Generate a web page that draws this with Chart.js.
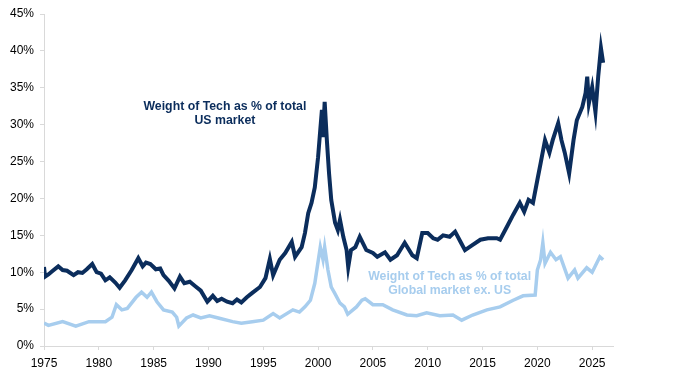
<!DOCTYPE html>
<html>
<head>
<meta charset="utf-8">
<script src="https://cdn.jsdelivr.net/npm/chart.js@4"></script>
<style>
html,body{margin:0;padding:0;background:#fff;}
#wrap{width:680px;height:385px;position:relative;}
</style>
</head>
<body>
<div id="wrap"><canvas id="c" width="680" height="385"></canvas></div>
<script>
const usYears = [1975.0,1975.1,1975.4,1975.8,1976.3,1976.7,1977.1,1977.7,1978.1,1978.5,1978.9,1979.4,1979.8,1980.2,1980.6,1981.0,1981.5,1981.9,1982.4,1983.0,1983.6,1984.0,1984.3,1984.7,1985.2,1985.6,1985.9,1986.4,1986.9,1987.4,1987.8,1988.3,1988.8,1989.3,1989.9,1990.4,1990.8,1991.2,1991.7,1992.2,1992.6,1993.0,1993.5,1994.0,1994.7,1995.2,1995.6,1995.9,1996.5,1997.0,1997.6,1997.9,1998.5,1998.8,1999.1,1999.4,1999.7,2000.0,2000.2,2000.35,2000.45,2000.6,2000.8,2001.0,2001.2,2001.55,2001.8,2002.0,2002.3,2002.6,2002.75,2003.0,2003.4,2003.8,2004.4,2005.0,2005.4,2006.1,2006.6,2007.2,2007.9,2008.6,2009.0,2009.5,2010.0,2010.5,2010.9,2011.4,2012.0,2012.5,2013.0,2013.4,2014.1,2014.8,2015.5,2016.3,2016.6,2017.2,2017.8,2018.4,2018.8,2019.2,2019.6,2020.0,2020.3,2020.7,2021.1,2021.4,2021.9,2022.2,2022.5,2022.9,2023.3,2023.6,2024.1,2024.4,2024.55,2024.7,2025.0,2025.3,2025.55,2025.8,2026.0];
const usValues = [10.7,9.4,9.7,10.2,10.8,10.3,10.2,9.6,10.0,9.9,10.4,11.1,10.0,9.8,8.9,9.3,8.6,7.9,8.9,10.3,11.9,10.8,11.3,11.1,10.4,10.5,9.6,8.8,7.8,9.4,8.5,8.7,8.1,7.5,6.0,6.8,6.1,6.4,6.0,5.8,6.3,5.9,6.6,7.2,8.0,9.2,11.8,9.6,11.7,12.6,14.1,12.1,13.4,15.3,18.0,19.4,21.5,25.6,29.3,32.0,28.3,33.1,27.9,23.4,19.8,16.7,15.7,17.1,14.8,13.0,10.7,13.0,13.4,14.8,13.0,12.6,12.1,12.7,11.7,12.3,14.0,12.3,11.9,15.3,15.3,14.6,14.4,15.0,14.8,15.5,14.1,13.0,13.7,14.4,14.6,14.6,14.4,16.1,17.8,19.4,18.2,19.8,19.4,22.5,24.8,27.9,26.2,27.9,30.2,27.9,26.2,23.4,27.9,30.6,32.4,34.3,36.5,32.9,35.1,31.7,36.5,40.4,38.4];

const globalYears = [1975.0,1975.4,1976.7,1977.9,1979.1,1980.6,1981.2,1981.6,1982.1,1982.6,1983.4,1983.9,1984.4,1984.8,1985.3,1985.9,1986.7,1987.1,1987.3,1988.0,1988.6,1989.3,1990.1,1990.9,1992.2,1993.0,1994.0,1995.0,1995.9,1996.5,1997.7,1998.3,1998.8,1999.3,1999.7,2000.2,2000.45,2000.6,2000.9,2001.2,2001.5,2002.0,2002.4,2002.7,2003.5,2004.0,2004.3,2005.0,2005.9,2006.8,2008.1,2009.0,2009.9,2011.1,2012.3,2013.1,2014.1,2015.4,2016.6,2017.8,2018.7,2019.8,2020.0,2020.3,2020.5,2020.7,2021.2,2021.7,2022.1,2022.8,2023.4,2023.7,2024.5,2025.0,2025.7,2026.0];
const globalValues = [3.1,2.8,3.3,2.7,3.3,3.3,3.9,5.6,4.9,5.1,6.6,7.3,6.6,7.3,6.0,4.9,4.6,3.9,2.7,3.8,4.2,3.8,4.1,3.8,3.3,3.1,3.3,3.5,4.4,3.8,4.9,4.6,5.3,6.2,8.5,13.4,11.7,13.4,10.3,8.0,7.2,5.8,5.3,4.3,5.3,6.2,6.4,5.6,5.6,4.9,4.2,4.1,4.5,4.1,4.2,3.5,4.2,4.9,5.3,6.2,6.8,6.9,10.3,11.7,14.0,11.2,12.7,11.7,12.1,9.2,10.3,9.2,10.6,10.0,12.1,11.7];

const usLabel = ["Weight of Tech as % of total", "US market"];
const globalLabel = ["Weight of Tech as % of total", "Global market ex. US"];
const xTickYears = [1975,1980,1985,1990,1995,2000,2005,2010,2015,2020,2025];

const navy = '#0b2d5c';
const light = '#a7cdee';

const labelPlugin = {
  id: 'labels',
  afterDatasetsDraw(chart) {
    const ctx = chart.ctx, xs = chart.scales.x, ys = chart.scales.y;
    ctx.save();
    ctx.font = 'bold 12.3px "Liberation Sans", Arial, sans-serif';
    ctx.textAlign = 'center';
    ctx.textBaseline = 'middle';
    ctx.fillStyle = navy;
    ctx.fillText(usLabel[0], xs.getPixelForValue(1991.5), ys.getPixelForValue(32.5));
    ctx.fillText(usLabel[1], xs.getPixelForValue(1991.5), ys.getPixelForValue(30.6));
    ctx.fillStyle = light;
    ctx.fillText(globalLabel[0], xs.getPixelForValue(2012.0), ys.getPixelForValue(9.35));
    ctx.fillText(globalLabel[1], xs.getPixelForValue(2012.0), ys.getPixelForValue(7.55));
    ctx.restore();
  }
};

new Chart(document.getElementById('c'), {
  type: 'line',
  data: {
    datasets: [
      { label: 'Global ex US', data: globalYears.map((x,i)=>({x, y: globalValues[i]})), borderColor: light, borderWidth: 3.5, pointRadius: 0, tension: 0 },
      { label: 'US', data: usYears.map((x,i)=>({x, y: usValues[i]})), borderColor: navy, borderWidth: 4, pointRadius: 0, tension: 0 }
    ]
  },
  options: {
    responsive: false,
    animation: false,
    events: [],
    layout: { padding: { left: 0, top: 14, right: 67, bottom: 0 } },
    plugins: { legend: { display: false }, tooltip: { enabled: false } },
    scales: {
      x: {
        type: 'linear', min: 1975, max: 2026.9,
        afterBuildTicks: s => { s.ticks = xTickYears.map(v => ({ value: v })); },
        afterFit: s => { s.height = 39; },
        grid: { display: true, drawOnChartArea: false, color: '#d9d9d9', tickLength: 4, lineWidth: 1 },
        border: { display: true, color: '#d9d9d9', width: 1 },
        ticks: { color: '#000', font: { family: '"Liberation Sans", Arial, sans-serif', size: 12 }, padding: 6, maxRotation: 0, autoSkip: false, callback: v => String(v) }
      },
      y: {
        min: 0, max: 45,
        ticks: { stepSize: 5, color: '#000', font: { family: '"Liberation Sans", Arial, sans-serif', size: 12 }, padding: 6, callback: v => v + '%' },
        afterFit: s => { s.width = 44; },
        grid: { display: true, drawOnChartArea: false, color: '#d9d9d9', tickLength: 4, lineWidth: 1 },
        border: { display: true, color: '#d9d9d9', width: 1 }
      }
    }
  },
  plugins: [labelPlugin]
});
</script>
</body>
</html>
